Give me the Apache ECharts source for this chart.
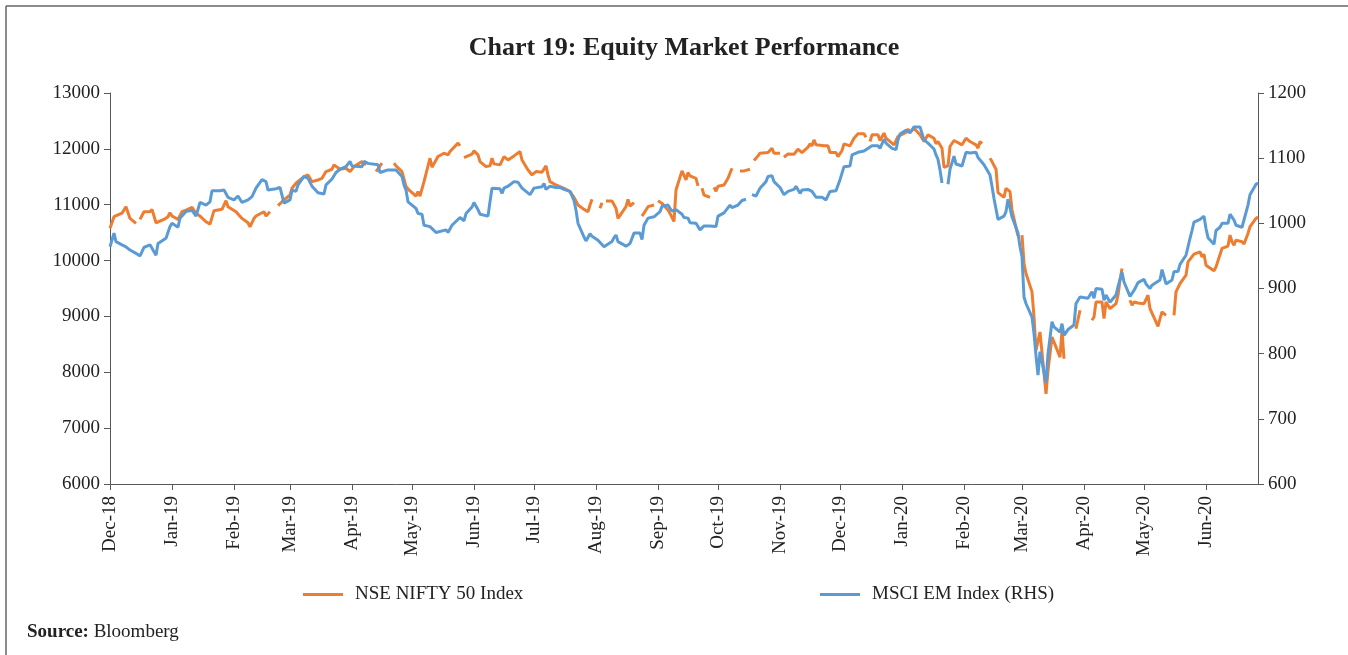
<!DOCTYPE html>
<html>
<head>
<meta charset="utf-8">
<title>Chart 19: Equity Market Performance</title>
<script src="https://cdn.jsdelivr.net/npm/echarts@6/dist/echarts.min.js"></script>
<style>
  html, body { margin: 0; padding: 0; background: #fff; }
  #chart { width: 1348px; height: 655px; }
</style>
</head>
<body>
<div id="chart"></div>
<script>
// NSE NIFTY 50 (left axis), null = market closed (line break)
const niftyData = [
  ['2018-12-11',10580],['2018-12-13',10785],['2018-12-17',10850],['2018-12-19',10965],['2018-12-20',11000],
  ['2018-12-21',10755],['2018-12-24',10665],['2018-12-25',null],['2018-12-26',10737],['2018-12-28',10875],
  ['2018-12-31',10875],['2019-01-01',10917],['2019-01-03',10677],['2019-01-07',10737],['2019-01-09',10785],
  ['2019-01-10',10857],['2019-01-11',10797],['2019-01-14',10737],['2019-01-16',10875],['2019-01-18',10905],
  ['2019-01-21',10953],['2019-01-23',10845],['2019-01-25',10797],['2019-01-28',10695],['2019-01-30',10653],
  ['2019-02-01',10893],['2019-02-05',10917],['2019-02-07',11072],['2019-02-08',10965],['2019-02-12',10875],
  ['2019-02-15',10755],['2019-02-18',10677],['2019-02-19',10605],['2019-02-21',10755],['2019-02-22',10797],
  ['2019-02-26',10875],['2019-02-27',10797],['2019-03-01',10875],['2019-03-04',null],['2019-03-05',10983],
  ['2019-03-07',11054],['2019-03-11',11174],['2019-03-12',11294],['2019-03-14',11384],['2019-03-18',11503],
  ['2019-03-20',11533],['2019-03-22',11413],['2019-03-25',11443],['2019-03-27',11473],['2019-03-29',11593],
  ['2019-04-01',11635],['2019-04-02',11713],['2019-04-05',11635],['2019-04-08',11653],['2019-04-10',11593],
  ['2019-04-12',11683],['2019-04-16',11772],['2019-04-18',11713],['2019-04-19',null],['2019-04-23',11593],
  ['2019-04-26',11743],['2019-04-29',null],['2019-05-02',11743],['2019-05-03',11695],['2019-05-06',11593],
  ['2019-05-08',11324],['2019-05-10',11246],['2019-05-13',11156],['2019-05-14',11234],['2019-05-15',11156],
  ['2019-05-17',11413],['2019-05-20',11832],['2019-05-21',11671],['2019-05-24',11862],['2019-05-27',11922],
  ['2019-05-29',11892],['2019-05-30',11952],['2019-05-31',11952],['2019-06-03',12102],['2019-06-04',12054],
  ['2019-06-05',null],['2019-06-06',11844],['2019-06-10',11904],['2019-06-11',11964],['2019-06-13',11892],
  ['2019-06-14',11772],['2019-06-17',11683],['2019-06-19',11695],['2019-06-20',11832],['2019-06-21',11731],
  ['2019-06-24',11713],['2019-06-26',11862],['2019-06-28',11802],['2019-07-01',11874],['2019-07-04',11952],
  ['2019-07-05',11802],['2019-07-08',11623],['2019-07-10',11533],['2019-07-12',11593],['2019-07-15',11581],
  ['2019-07-17',11695],['2019-07-18',11533],['2019-07-19',11413],['2019-07-22',11354],['2019-07-26',11294],
  ['2019-07-29',11234],['2019-07-31',11132],['2019-08-02',10995],['2019-08-05',10917],['2019-08-07',10875],
  ['2019-08-08',10995],['2019-08-09',11096],['2019-08-12',null],['2019-08-13',10935],['2019-08-14',11036],
  ['2019-08-15',null],['2019-08-16',11066],['2019-08-19',11066],['2019-08-20',11054],['2019-08-21',10935],
  ['2019-08-22',10755],['2019-08-26',10965],['2019-08-27',11096],['2019-08-28',10977],['2019-08-30',11036],
  ['2019-09-02',null],['2019-09-03',10797],['2019-09-05',10905],['2019-09-06',10965],['2019-09-09',10995],
  ['2019-09-10',null],['2019-09-11',11072],['2019-09-13',11024],['2019-09-16',10905],['2019-09-17',10845],
  ['2019-09-19',10700],['2019-09-20',11264],['2019-09-23',11605],['2019-09-25',11443],['2019-09-26',11575],
  ['2019-09-27',11515],['2019-09-30',11473],['2019-10-01',11336],['2019-10-02',null],['2019-10-03',11294],
  ['2019-10-04',11174],['2019-10-07',11132],['2019-10-08',null],['2019-10-09',11312],['2019-10-10',11240],
  ['2019-10-11',11330],['2019-10-14',11354],['2019-10-16',11473],['2019-10-18',11653],['2019-10-21',null],
  ['2019-10-22',11605],['2019-10-24',11605],['2019-10-27',11635],['2019-10-28',null],['2019-10-29',11790],
  ['2019-10-31',11874],['2019-11-01',11922],['2019-11-05',11934],['2019-11-07',12012],['2019-11-08',11922],
  ['2019-11-11',11922],['2019-11-12',null],['2019-11-13',11850],['2019-11-15',11910],['2019-11-18',11904],
  ['2019-11-20',11994],['2019-11-22',11934],['2019-11-25',12030],['2019-11-26',12090],['2019-11-27',12054],
  ['2019-11-28',12161],['2019-11-29',12072],['2019-12-03',12054],['2019-12-05',12054],['2019-12-06',11934],
  ['2019-12-09',11934],['2019-12-10',11862],['2019-12-12',11970],['2019-12-13',12090],['2019-12-16',12054],
  ['2019-12-18',12191],['2019-12-20',12269],['2019-12-23',12269],['2019-12-24',12209],['2019-12-25',null],
  ['2019-12-26',12132],['2019-12-27',12251],['2019-12-30',12251],['2019-12-31',12149],['2020-01-02',12281],
  ['2020-01-03',12191],['2020-01-07',12072],['2020-01-09',12221],['2020-01-13',12293],['2020-01-14',12353],
  ['2020-01-15',12293],['2020-01-17',12371],['2020-01-20',12251],['2020-01-22',12132],['2020-01-24',12251],
  ['2020-01-27',12191],['2020-01-28',12090],['2020-01-29',12132],['2020-01-31',12012],['2020-02-01',11671],
  ['2020-02-03',11695],['2020-02-04',12042],['2020-02-06',12149],['2020-02-10',12072],['2020-02-12',12191],
  ['2020-02-14',12131],['2020-02-17',12072],['2020-02-18',12012],['2020-02-19',12131],['2020-02-20',12090],
  ['2020-02-21',null],['2020-02-24',11832],['2020-02-25',11772],['2020-02-27',11635],['2020-02-28',11216],
  ['2020-03-02',11132],['2020-03-03',11294],['2020-03-05',11234],['2020-03-06',10905],['2020-03-09',10440],
  ['2020-03-10',null],['2020-03-11',10456],['2020-03-12',9947],['2020-03-13',9768],['2020-03-16',9439],
  ['2020-03-17',8990],['2020-03-18',8392],['2020-03-20',8721],['2020-03-23',7614],['2020-03-24',8032],
  ['2020-03-26',8631],['2020-03-27',8640],['2020-03-30',8272],['2020-03-31',8751],['2020-04-01',8242],
  ['2020-04-02',null],['2020-04-07',8780],['2020-04-08',8750],['2020-04-09',9110],['2020-04-10',null],
  ['2020-04-15',8930],['2020-04-16',8990],['2020-04-17',9259],['2020-04-20',9259],['2020-04-21',8960],
  ['2020-04-22',9259],['2020-04-24',9140],['2020-04-27',9229],['2020-04-28',9379],['2020-04-29',9648],
  ['2020-04-30',9858],['2020-05-01',null],['2020-05-04',9289],['2020-05-05',9200],['2020-05-06',9259],
  ['2020-05-08',9241],['2020-05-11',9229],['2020-05-13',9379],['2020-05-14',9140],['2020-05-15',9110],
  ['2020-05-18',8822],['2020-05-19',8960],['2020-05-20',9080],['2020-05-22',9020],['2020-05-25',null],
  ['2020-05-26',9020],['2020-05-27',9439],['2020-05-29',9588],['2020-06-01',9738],['2020-06-02',9977],
  ['2020-06-05',10115],['2020-06-08',10157],['2020-06-09',10067],['2020-06-10',10115],['2020-06-11',9917],
  ['2020-06-12',9947],['2020-06-15',9816],['2020-06-16',9887],['2020-06-19',10217],['2020-06-22',10259],
  ['2020-06-23',10456],['2020-06-24',10336],['2020-06-25',10277],['2020-06-26',10366],['2020-06-29',10336],
  ['2020-06-30',10295],['2020-07-02',10486],['2020-07-03',10606],['2020-07-06',10755],['2020-07-07',10780]
];

// MSCI EM (right axis)
const msciData = [
  ['2018-12-11',964],['2018-12-13',985],['2018-12-14',972],['2018-12-17',967],['2018-12-19',964],
  ['2018-12-21',959],['2018-12-24',954],['2018-12-26',950],['2018-12-28',963],['2018-12-31',967],
  ['2019-01-03',951],['2019-01-04',969],['2019-01-08',977],['2019-01-09',979],['2019-01-10',995],
  ['2019-01-11',1000],['2019-01-14',994],['2019-01-15',1008],['2019-01-18',1018],['2019-01-21',1020],
  ['2019-01-22',1019],['2019-01-23',1011],['2019-01-25',1032],['2019-01-28',1028],['2019-01-30',1033],
  ['2019-01-31',1050],['2019-02-04',1050],['2019-02-06',1051],['2019-02-08',1040],['2019-02-11',1036],
  ['2019-02-13',1042],['2019-02-15',1032],['2019-02-18',1036],['2019-02-20',1041],['2019-02-22',1054],
  ['2019-02-25',1067],['2019-02-27',1064],['2019-02-28',1051],['2019-03-04',1053],['2019-03-06',1055],
  ['2019-03-08',1031],['2019-03-11',1036],['2019-03-12',1051],['2019-03-14',1049],['2019-03-15',1059],
  ['2019-03-18',1072],['2019-03-20',1069],['2019-03-22',1057],['2019-03-25',1047],['2019-03-28',1045],
  ['2019-03-29',1059],['2019-04-01',1068],['2019-04-03',1078],['2019-04-05',1083],['2019-04-08',1087],
  ['2019-04-10',1095],['2019-04-11',1088],['2019-04-12',1088],['2019-04-16',1087],['2019-04-17',1095],
  ['2019-04-19',1092],['2019-04-24',1090],['2019-04-25',1078],['2019-04-29',1082],['2019-04-30',1079],
  ['2019-05-03',1082],['2019-05-06',1072],['2019-05-07',1059],['2019-05-08',1051],['2019-05-09',1033],
  ['2019-05-10',1035],['2019-05-13',1023],['2019-05-14',1015],['2019-05-16',1014],['2019-05-17',997],
  ['2019-05-20',995],['2019-05-21',997],['2019-05-23',986],['2019-05-24',987],['2019-05-28',990],
  ['2019-05-29',986],['2019-05-31',997],['2019-06-04',1009],['2019-06-06',1004],['2019-06-07',1015],
  ['2019-06-10',1025],['2019-06-11',1032],['2019-06-13',1021],['2019-06-14',1014],['2019-06-18',1011],
  ['2019-06-19',1033],['2019-06-20',1054],['2019-06-21',1054],['2019-06-24',1053],['2019-06-25',1046],
  ['2019-06-26',1054],['2019-06-28',1057],['2019-07-01',1064],['2019-07-03',1063],['2019-07-04',1065],
  ['2019-07-05',1054],['2019-07-09',1044],['2019-07-11',1054],['2019-07-12',1052],['2019-07-15',1056],
  ['2019-07-16',1061],['2019-07-17',1052],['2019-07-19',1057],['2019-07-22',1055],['2019-07-24',1055],
  ['2019-07-26',1052],['2019-07-29',1049],['2019-07-30',1042],['2019-07-31',1035],['2019-08-01',1020],
  ['2019-08-02',1000],['2019-08-05',979],['2019-08-06',973],['2019-08-07',973],['2019-08-08',984],
  ['2019-08-09',980],['2019-08-12',974],['2019-08-15',964],['2019-08-19',972],['2019-08-20',978],
  ['2019-08-21',982],['2019-08-22',972],['2019-08-26',965],['2019-08-27',962],['2019-08-28',969],
  ['2019-08-29',972],['2019-08-30',985],['2019-09-02',985],['2019-09-03',975],['2019-09-04',997],
  ['2019-09-06',1008],['2019-09-09',1010],['2019-09-10',1009],['2019-09-12',1018],['2019-09-13',1026],
  ['2019-09-16',1028],['2019-09-17',1023],['2019-09-18',1019],['2019-09-20',1021],['2019-09-23',1014],
  ['2019-09-24',1009],['2019-09-26',1008],['2019-09-27',1001],['2019-09-30',1000],['2019-10-01',999],
  ['2019-10-02',990],['2019-10-04',996],['2019-10-07',996],['2019-10-08',994],['2019-10-10',995],
  ['2019-10-11',1011],['2019-10-14',1016],['2019-10-15',1019],['2019-10-17',1028],['2019-10-18',1024],
  ['2019-10-21',1028],['2019-10-23',1035],['2019-10-25',1037],['2019-10-27',null],['2019-10-28',1044],
  ['2019-10-30',1042],['2019-11-01',1054],['2019-11-04',1064],['2019-11-05',1072],['2019-11-07',1073],
  ['2019-11-08',1064],['2019-11-11',1055],['2019-11-12',1055],['2019-11-13',1044],['2019-11-15',1049],
  ['2019-11-18',1052],['2019-11-19',1057],['2019-11-21',1046],['2019-11-22',1051],['2019-11-25',1052],
  ['2019-11-26',1054],['2019-11-27',1049],['2019-11-28',1051],['2019-11-29',1040],['2019-12-02',1040],
  ['2019-12-04',1036],['2019-12-06',1049],['2019-12-09',1050],['2019-12-10',1050],['2019-12-11',1067],
  ['2019-12-13',1087],['2019-12-16',1088],['2019-12-17',1105],['2019-12-18',1108],['2019-12-20',1109],
  ['2019-12-23',1111],['2019-12-24',1109],['2019-12-27',1119],['2019-12-30',1119],['2019-12-31',1115],
  ['2020-01-02',1129],['2020-01-03',1123],['2020-01-06',1115],['2020-01-08',1113],['2020-01-09',1128],
  ['2020-01-10',1137],['2020-01-13',1143],['2020-01-15',1139],['2020-01-17',1148],['2020-01-20',1148],
  ['2020-01-21',1145],['2020-01-22',1128],['2020-01-23',1129],['2020-01-24',1123],['2020-01-27',1114],
  ['2020-01-28',1105],['2020-01-29',1098],['2020-01-30',1082],['2020-01-31',1062],['2020-02-01',null],
  ['2020-02-03',1060],['2020-02-04',1083],['2020-02-06',1103],['2020-02-07',1091],['2020-02-10',1088],
  ['2020-02-12',1109],['2020-02-14',1108],['2020-02-17',1109],['2020-02-18',1101],['2020-02-19',1102],
  ['2020-02-21',1090],['2020-02-24',1074],['2020-02-25',1057],['2020-02-26',1038],['2020-02-28',1006],
  ['2020-03-02',1011],['2020-03-03',1018],['2020-03-04',1037],['2020-03-05',1040],['2020-03-06',1010],
  ['2020-03-09',985],['2020-03-10',964],['2020-03-11',949],['2020-03-12',887],['2020-03-13',877],
  ['2020-03-16',856],['2020-03-17',831],['2020-03-18',797],['2020-03-19',767],['2020-03-20',803],
  ['2020-03-23',756],['2020-03-24',800],['2020-03-26',849],['2020-03-27',841],['2020-03-30',833],
  ['2020-03-31',846],['2020-04-01',828],['2020-04-03',837],['2020-04-06',844],['2020-04-07',877],
  ['2020-04-08',875],['2020-04-09',887],['2020-04-13',885],['2020-04-14',882],['2020-04-15',895],
  ['2020-04-16',885],['2020-04-17',900],['2020-04-20',899],['2020-04-21',882],['2020-04-22',890],
  ['2020-04-24',879],['2020-04-27',890],['2020-04-28',903],['2020-04-30',925],['2020-05-01',910],
  ['2020-05-04',888],['2020-05-06',897],['2020-05-07',897],['2020-05-08',909],['2020-05-11',914],
  ['2020-05-12',907],['2020-05-14',900],['2020-05-15',905],['2020-05-19',913],['2020-05-20',929],
  ['2020-05-21',929],['2020-05-22',907],['2020-05-25',913],['2020-05-26',926],['2020-05-28',926],
  ['2020-05-29',937],['2020-06-01',951],['2020-06-03',977],['2020-06-04',989],['2020-06-05',1002],
  ['2020-06-08',1006],['2020-06-10',1011],['2020-06-11',992],['2020-06-12',978],['2020-06-15',968],
  ['2020-06-16',989],['2020-06-18',994],['2020-06-19',1000],['2020-06-22',1000],['2020-06-23',1014],
  ['2020-06-25',1005],['2020-06-26',997],['2020-06-29',994],['2020-06-30',997],['2020-07-02',1028],
  ['2020-07-03',1044],['2020-07-06',1060],['2020-07-07',1062]
];

const seriesNames = ['NSE NIFTY 50 Index', 'MSCI EM Index (RHS)'];
const monthNames = ['Jan','Feb','Mar','Apr','May','Jun','Jul','Aug','Sep','Oct','Nov','Dec'];
// axis runs from first to last date; Excel puts monthly ticks on the same day as the start
const axisStart = '2018-12-11';
const axisEnd = '2020-07-07';
const tickCount = 19;

const FONT = '"Liberation Serif", "DejaVu Serif", serif';
const ORANGE = '#ED7D31';
const BLUE = '#5B9BD5';
const AXIS = '#595959';

function ts(s) { return new Date(s + 'T00:00:00').getTime(); }

const start = new Date(axisStart + 'T00:00:00');
const monthTicks = [];
for (let i = 0; i < tickCount; i++) {
  monthTicks.push(new Date(start.getFullYear(), start.getMonth() + i, start.getDate()).getTime());
}

const chart = echarts.init(document.getElementById('chart'));

// plain numbers, no thousands separator
const yCommon = {
  axisLine: { show: true, lineStyle: { color: AXIS, width: 1 } },
  axisTick: { show: true, length: 6, lineStyle: { color: AXIS } },
  axisLabel: { color: '#222', fontFamily: FONT, fontSize: 19, margin: 10, formatter: v => String(v) },
  splitLine: { show: false }
};

chart.setOption({
  animation: false,
  backgroundColor: '#fff',
  grid: { left: 110, right: 90, top: 93, bottom: 171 },
  graphic: [
    { type: 'line', shape: { x1: 6, y1: 6, x2: 1348, y2: 6 }, style: { stroke: '#666', lineWidth: 1.5 } },
    { type: 'line', shape: { x1: 6, y1: 6, x2: 6, y2: 655 }, style: { stroke: '#666', lineWidth: 1.5 } },
    {
      type: 'text', x: 684, y: 48,
      style: {
        text: 'Chart 19: Equity Market Performance',
        font: 'bold 26px ' + FONT, fill: '#222', align: 'center', verticalAlign: 'middle'
      }
    },
    {
      type: 'text', x: 27, y: 632,
      style: {
        text: '{b|Source:} Bloomberg',
        font: '19px ' + FONT, fill: '#222', verticalAlign: 'middle',
        rich: { b: { font: 'bold 19px ' + FONT, fill: '#222' } }
      }
    }
  ],
  legend: [
    {
      data: [seriesNames[0]], left: 303, top: 585, padding: 0,
      icon: 'rect', itemWidth: 40, itemHeight: 3,
      textStyle: { fontFamily: FONT, fontSize: 19, color: '#222', padding: [0, 0, 0, 7] }
    },
    {
      data: [seriesNames[1]], left: 820, top: 585, padding: 0,
      icon: 'rect', itemWidth: 40, itemHeight: 3,
      textStyle: { fontFamily: FONT, fontSize: 19, color: '#222', padding: [0, 0, 0, 7] }
    }
  ],
  xAxis: {
    type: 'value',
    min: ts(axisStart),
    max: ts(axisEnd),
    axisLine: { show: true, onZero: false, lineStyle: { color: AXIS, width: 1 } },
    axisTick: { show: true, length: 6, customValues: monthTicks, lineStyle: { color: AXIS } },
    axisLabel: {
      customValues: monthTicks,
      rotate: 90,
      margin: 12,
      color: '#222',
      fontFamily: FONT,
      fontSize: 19,
      formatter: function (v) {
        const d = new Date(v);
        return monthNames[d.getMonth()] + '-' + String(d.getFullYear()).slice(2);
      }
    },
    splitLine: { show: false }
  },
  yAxis: [
    Object.assign({ type: 'value', position: 'left', min: 6000, max: 13000, interval: 1000 }, yCommon),
    Object.assign({ type: 'value', position: 'right', min: 600, max: 1200, interval: 100 }, yCommon)
  ],
  series: [
    {
      name: seriesNames[0], type: 'line', yAxisIndex: 0,
      data: niftyData.map(p => [ts(p[0]), p[1]]),
      showSymbol: false, connectNulls: false,
      lineStyle: { color: ORANGE, width: 3 }, itemStyle: { color: ORANGE }
    },
    {
      name: seriesNames[1], type: 'line', yAxisIndex: 1,
      data: msciData.map(p => [ts(p[0]), p[1]]),
      showSymbol: false, connectNulls: false,
      lineStyle: { color: BLUE, width: 3 }, itemStyle: { color: BLUE }
    }
  ]
});
</script>
</body>
</html>
